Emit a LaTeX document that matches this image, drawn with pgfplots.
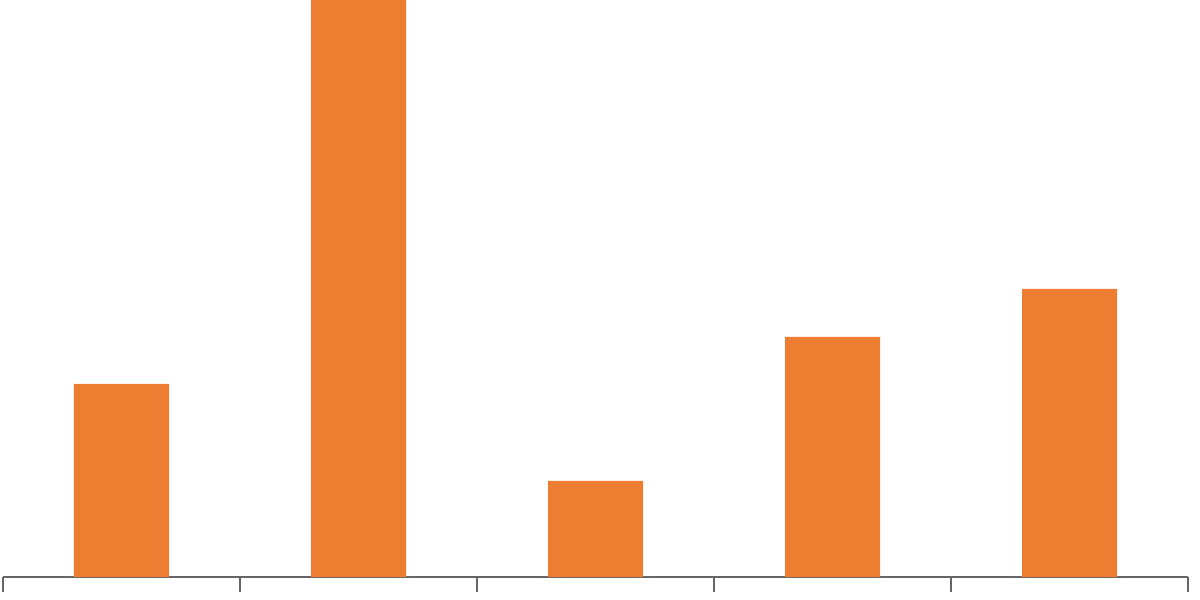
\documentclass[border=0pt]{standalone}
\usepackage{pgfplots}
\pgfplotsset{compat=1.18}
\definecolor{barorange}{HTML}{ED7D31}
\begin{document}
\begin{tikzpicture}
\begin{axis}[
  at={(0pt,0pt)}, anchor=south west,
  scale only axis,
  width=592.5pt, height=288.5pt,
  xmin=-0.5, xmax=4.5,
  ymin=0, ymax=577,
  axis x line=bottom,
  axis y line=none,
  axis line style={-, draw=gray!80!black, line width=0.6pt},
  xtick={-0.5,0.5,1.5,2.5,3.5,4.5},
  xticklabels={},
  tick align=outside,
  major tick length=7.5pt,
  tick style={draw=gray!80!black, line width=0.6pt},
  ytick=\empty,
  clip=true,
]
\addplot[ybar, bar width=47.5pt, fill=barorange, draw=none]
  coordinates {(0,193) (1,620) (2,96) (3,240) (4,288)};
\end{axis}
\pgfresetboundingbox
\useasboundingbox (-1.5pt,-11.5pt) rectangle (598.5pt,288.5pt);
\end{tikzpicture}
\end{document}
